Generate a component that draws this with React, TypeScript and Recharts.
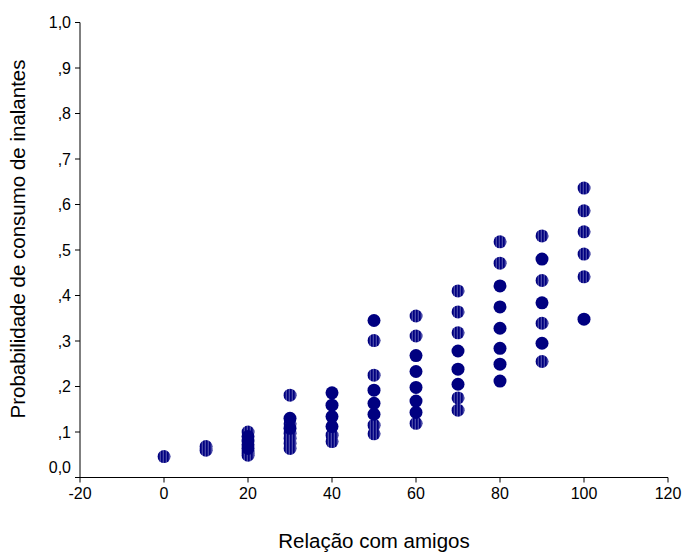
import React from "react";
import { ScatterChart, Scatter, XAxis, YAxis } from "recharts";

// Relação com amigos (x) and probabilities (y) per column
const relacao = [0, 10, 20, 30, 40, 50, 60, 70, 80, 90, 100];

// single-case points (drawn hatched)
const probSingle: number[][] = [
  [0.046],
  [0.068, 0.06],
  [0.1, 0.056, 0.049],
  [0.181, 0.118, 0.097, 0.086, 0.075, 0.064],
  [0.093, 0.079],
  [0.301, 0.225, 0.115, 0.096],
  [0.355, 0.311, 0.119],
  [0.41, 0.364, 0.318, 0.175, 0.148],
  [0.518, 0.471],
  [0.531, 0.433, 0.339, 0.255],
  [0.636, 0.586, 0.54, 0.491, 0.441],
];

// multiple-case points (drawn solid)
const probMulti: number[][] = [
  [],
  [],
  [0.09, 0.08, 0.072, 0.064],
  [0.13, 0.108],
  [0.186, 0.159, 0.134, 0.112],
  [0.345, 0.192, 0.163, 0.139],
  [0.268, 0.233, 0.198, 0.168, 0.143],
  [0.278, 0.238, 0.205],
  [0.421, 0.375, 0.328, 0.284, 0.249, 0.212],
  [0.48, 0.384, 0.295],
  [0.348],
];

const xTicks = [-20, 0, 20, 40, 60, 80, 100, 120];
const yTicks = [0, 0.1, 0.2, 0.3, 0.4, 0.5, 0.6, 0.7, 0.8, 0.9, 1.0];

const xTitle = "Relação com amigos";
const yTitle = "Probabilidade de consumo de inalantes";

const toPoints = (cols: number[][]) =>
  cols.flatMap((ys, i) => ys.map((y) => ({ x: relacao[i], y })));

const singleData = toPoints(probSingle);
const multiData = toPoints(probMulti);

const FONT = "'Liberation Sans', Arial, sans-serif";
const NAVY = "#000080";

const fmtY = (v: number) => {
  const r = Math.round(v * 10);
  if (r === 10) return "1,0";
  if (r === 0) return "0,0";
  return "," + r;
};

const YTick = (props: any) => {
  const { x, y, payload } = props;
  const shift = payload.value === 0 ? -10 : 0;
  return (
    <text x={x} y={y + shift} dy="0.355em" textAnchor="end" fill="#000" fontSize={16} fontFamily={FONT}>
      {fmtY(payload.value)}
    </text>
  );
};

const XTick = (props: any) => {
  const { x, y, payload } = props;
  return (
    <text x={x} y={y} dy="0.71em" textAnchor="middle" fill="#000" fontSize={16} fontFamily={FONT}>
      {payload.value}
    </text>
  );
};

const HatchDot = (props: any) => (
  <circle cx={props.cx} cy={props.cy} r={6.5} fill="url(#hatchNavy)" />
);
const SolidDot = (props: any) => (
  <circle cx={props.cx} cy={props.cy} r={6.5} fill={NAVY} />
);

const YLabel = (props: any) => {
  const vb = props.viewBox || {};
  const cx = 25;
  const cy = vb.y + vb.height / 2 - 11;
  return (
    <text
      x={cx}
      y={cy}
      textAnchor="middle"
      fontSize={20.5}
      fontFamily={FONT}
      fill="#000"
      transform={`rotate(-90, ${cx}, ${cy})`}
    >
      {yTitle}
    </text>
  );
};

const XLabel = (props: any) => {
  const vb = props.viewBox || {};
  const cx = vb.x + vb.width / 2;
  const cy = vb.y + vb.height - 10;
  return (
    <text x={cx} y={cy} textAnchor="middle" fontSize={20.5} fontFamily={FONT} fill="#000">
      {xTitle}
    </text>
  );
};

export default function App() {
  return (
    <div style={{ position: "fixed", top: 0, left: 0, width: 683, height: 558, background: "#fff", overflow: "hidden" }}>
      <svg width={0} height={0} style={{ position: "absolute" }}>
        <defs>
          <pattern id="hatchNavy" patternUnits="userSpaceOnUse" width={3} height={4}>
            <rect x={0} y={0} width={3} height={4} fill={NAVY} />
            <path d="M1.5 0 L1 1 L1.5 2 L1 3 L1.5 4" stroke="#6a6ab8" strokeWidth={0.9} fill="none" />
          </pattern>
        </defs>
      </svg>
      <ScatterChart width={683} height={558} margin={{ top: 22.5, right: 15, bottom: 0.5, left: 0 }}>
        <XAxis
          type="number"
          dataKey="x"
          domain={[-20, 120]}
          ticks={xTicks}
          interval={0}
          height={80}
          tickSize={5}
          tickMargin={5}
          tick={<XTick />}
          stroke="#000"
          axisLine={{ stroke: "#000", strokeWidth: 1 }}
          tickLine={{ stroke: "#000" }}
          label={<XLabel />}
        />
        <YAxis
          type="number"
          dataKey="y"
          domain={[0, 1]}
          ticks={yTicks}
          interval={0}
          width={80}
          tickSize={5}
          tickMargin={4}
          tick={<YTick />}
          stroke="#000"
          axisLine={{ stroke: "#000", strokeWidth: 1 }}
          tickLine={{ stroke: "#000" }}
          label={<YLabel />}
        />
        <Scatter data={singleData} shape={<HatchDot />} isAnimationActive={false} />
        <Scatter data={multiData} shape={<SolidDot />} isAnimationActive={false} />
      </ScatterChart>
    </div>
  );
}
